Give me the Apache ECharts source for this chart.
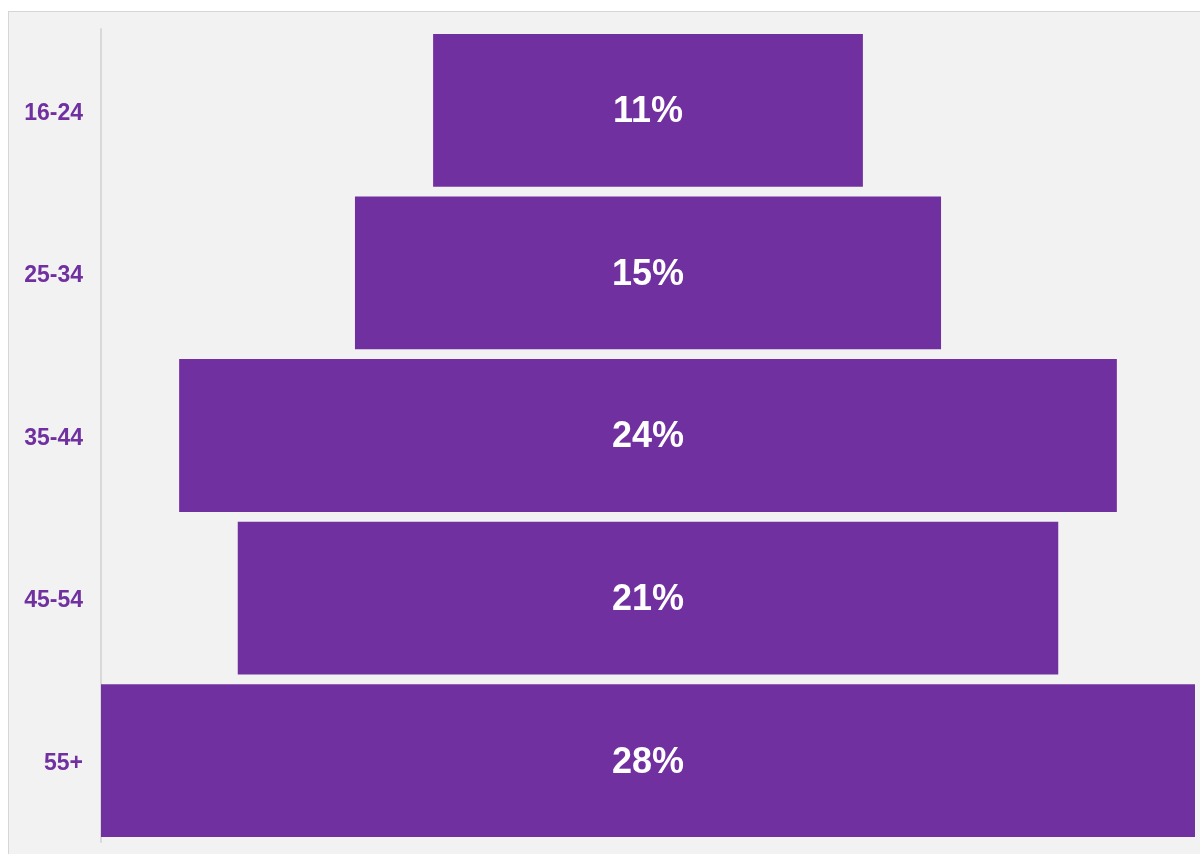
<!DOCTYPE html>
<html><head><meta charset="utf-8">
<script src="https://cdn.jsdelivr.net/npm/echarts@6/dist/echarts.min.js"></script>
<style>
html,body{margin:0;padding:0;background:#fff;width:1200px;height:854px;overflow:hidden;}
#panel{position:absolute;left:8px;top:11px;width:1200px;height:900px;background:#f2f2f2;border-top:1px solid #d6d6d6;border-left:1px solid #d6d6d6;}
#chart{position:absolute;left:0;top:0;width:1200px;height:854px;}
</style></head>
<body><div id="panel"></div><div id="chart"></div>
<script>
const categories = ['16-24','25-34','35-44','45-54','55+'];
const values = [11, 15, 24, 21, 28];
const maxValue = 28;
const offsets = values.map(v => (maxValue - v) / 2);
const chart = echarts.init(document.getElementById('chart'));
chart.setOption({
  backgroundColor: 'transparent',
  animation: false,
  grid: {left: 101, right: 5, top: 29, bottom: 12, containLabel: false},
  xAxis: {type: 'value', min: 0, max: maxValue, show: false},
  yAxis: {
    type: 'category', data: categories, inverse: true,
    axisLine: {show: true, lineStyle: {color: '#d9d9d9', width: 2}},
    axisTick: {show: false},
    axisLabel: {margin: 18, formatter: '{a|{value}}',
      rich: {a: {color: '#7030a0', fontWeight: 'bold', fontSize: 23, fontFamily: 'Liberation Sans, Arial, sans-serif', padding: [6, 0, 0, 0]}}}
  },
  series: [
    {type: 'bar', stack: 'a', data: offsets, itemStyle: {color: 'transparent'}, barCategoryGap: '6%', silent: true},
    {type: 'bar', stack: 'a', data: values, barCategoryGap: '6%',
     itemStyle: {color: '#7030a0'},
     label: {show: true, position: 'inside', formatter: '{c}%', color: '#fff', fontWeight: 'bold', fontSize: 36, fontFamily: 'Liberation Sans, Arial, sans-serif', offset: [0, 2]}}
  ]
});
</script></body></html>
